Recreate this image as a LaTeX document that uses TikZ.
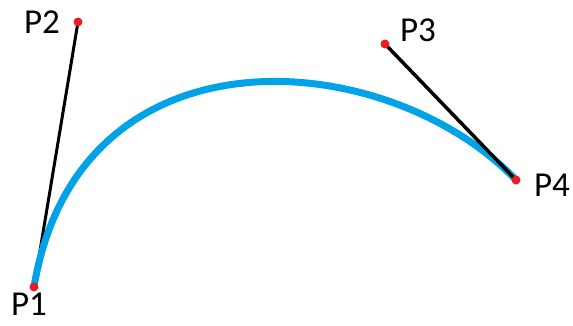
\documentclass[tikz,border=0pt]{standalone}
\usepackage{fontspec}
\setmainfont{Carlito}
\definecolor{curveblue}{RGB}{0,162,232}
\definecolor{dotred}{RGB}{237,28,36}
\tikzset{
  px/.style={x=1pt,y=-1pt},
  ctrlline/.style={black,line width=3pt},
  bezcurve/.style={curveblue,line width=7pt},
  dot/.style={circle,fill=dotred,inner sep=0pt,minimum size=9pt},
  lbl/.style={font=\fontsize{35}{35}\selectfont,inner sep=0pt}
}
\begin{document}
\begin{tikzpicture}[px]
\useasboundingbox (0,0) rectangle (573,325);
\coordinate (P1) at (34,287);
\coordinate (P2) at (78,22);
\coordinate (P3) at (385,44);
\coordinate (P4) at (516,180);
\draw[ctrlline] (P1) -- (P2);
\draw[bezcurve] (P1) .. controls (P2) and (P3) .. (P4);
\draw[ctrlline,line width=3.5pt] (P3) -- (P4);
\node[dot] (d1) at (P1) {};
\node[dot] (d2) at (P2) {};
\node[dot] (d3) at (P3) {};
\node[dot] (d4) at (P4) {};
\node[lbl] (l1) at (29,304) {P1};
\node[lbl] (l2) at (42,22) {P2};
\node[lbl] (l3) at (418,30) {P3};
\node[lbl] (l4) at (552,185) {P4};
\end{tikzpicture}
\end{document}
